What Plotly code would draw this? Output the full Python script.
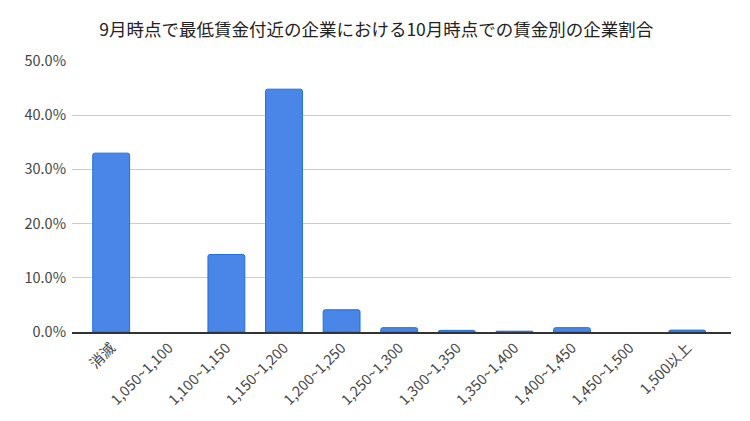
import plotly.graph_objects as go

categories = ["消滅", "1,050~1,100", "1,100~1,150", "1,150~1,200", "1,200~1,250",
              "1,250~1,300", "1,300~1,350", "1,350~1,400", "1,400~1,450",
              "1,450~1,500", "1,500以上"]
shares = [0.330, 0.0, 0.143, 0.448, 0.041, 0.008, 0.003, 0.0015, 0.008, 0.0, 0.0035]
y_ticks = [0, 0.1, 0.2, 0.3, 0.4, 0.5]

font = "Noto Sans CJK JP, Roboto, sans-serif"

# no outline on empty bins, so nothing shows at zero
outline = [1 if v > 0 else 0 for v in shares]

fig = go.Figure(
    go.Bar(
        x=categories,
        y=shares,
        width=0.64,
        marker=dict(color="#4a86e8", line=dict(color="#1f6fe0", width=outline), cornerradius=2),
        hoverinfo="x+y",
    )
)

# margins allow for the 8px default body margin of the page
fig.update_layout(
    width=750,
    height=421,
    margin=dict(l=64, r=27, t=53, b=97),
    plot_bgcolor="white",
    paper_bgcolor="white",
    font=dict(family=font, size=14.5, color="#333333"),
    title=dict(
        text="9月時点で最低賃金付近の企業における10月時点での賃金別の企業割合",
        x=0.491, xanchor="center", y=0.948, yanchor="middle",
        font=dict(family=font, size=17.5, color="#222222"),
    ),
    showlegend=False,
)
fig.update_xaxes(
    range=[-0.68, 10.76],
    tickangle=-45,
    showline=True,
    linecolor="#333333",
    linewidth=1.5,
    showgrid=False,
    ticks="",
    automargin=False,
    tickfont=dict(size=14.5, color="#444444"),
)
fig.update_yaxes(
    range=[0, 0.5],
    tickvals=y_ticks,
    tickformat=".1%",
    gridcolor="#cccccc",
    zeroline=False,
    ticks="",
    ticklabelstandoff=5,
    automargin=False,
    tickfont=dict(size=14.5, color="#444444"),
)

fig.write_html("out.html")
